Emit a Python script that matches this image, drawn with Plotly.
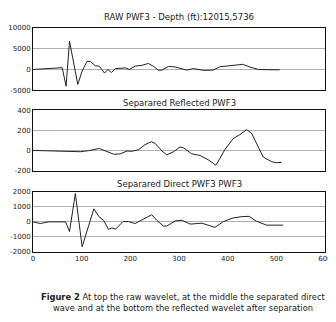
import plotly.graph_objects as go

raw_x = [0, 26, 60, 68, 75, 92, 101, 111, 118, 128, 136, 147, 154, 161, 170, 190, 198, 210, 224, 237, 248, 258, 265, 278, 292, 316, 330, 350, 370, 384, 408, 431, 446, 463, 487, 507]
raw_y = [0, 150, 430, -4000, 6800, -3600, -360, 1950, 1950, 870, 800, -870, 0, -725, 220, 360, 0, 800, 1000, 1450, 725, -220, -150, 725, 600, -150, 220, -220, -150, 650, 940, 1230, 580, 0, -70, -70]

refl_x = [0, 32, 67, 97, 114, 136, 149, 166, 179, 193, 203, 217, 230, 243, 251, 265, 275, 289, 302, 309, 326, 343, 360, 376, 394, 411, 425, 439, 449, 461, 473, 490, 500, 511]
refl_y = [3, 0, -3, -10, 0, 22, -3, -35, -32, -3, -6, 10, 60, 89, 73, -3, -41, -10, 37, 30, -31, -47, -90, -145, 9, 119, 160, 209, 175, 56, -62, -109, -119, -115]

dir_x = [0, 15, 32, 67, 75, 87, 101, 125, 136, 145, 155, 162, 170, 185, 196, 210, 244, 254, 268, 275, 292, 306, 323, 347, 374, 391, 411, 429, 444, 459, 480, 514]
dir_y = [0, -110, 0, 0, -650, 1890, -1670, 870, 330, 110, -500, -410, -480, 20, 20, -110, 480, 110, -280, -280, 65, 110, -150, -90, -370, 20, 260, 350, 370, 45, -220, -220]

titles = ["RAW PWF3 - Depth (ft):12015,5736", "Separared Reflected PWF3", "Separared Direct PWF3 PWF3"]
y_ranges = [[-5000, 10000], [-200, 400], [-2000, 2000]]
y_ticks = [[-5000, 0, 5000, 10000], [-200, 0, 200, 400], [-2000, -1000, 0, 1000, 2000]]
x_ticks = [0, 100, 200, 300, 400, 500, 600]
caption = ["<b>Figure 2</b> At top the raw wavelet, at the middle the separated direct",
           "wave and at the bottom the reflected wavelet after separation"]

OFF = 8  # browser body margin
W, H = 336 - OFF, 322 - OFF
boxes = [(24.3, 88.3), (109, 171), (192.7, 254)]
title_y = [13.5, 101, 184]
caption_y = [300, 312]

fig = go.Figure()
series = [(raw_x, raw_y), (refl_x, refl_y), (dir_x, dir_y)]
for i, (xs, ys) in enumerate(series):
    sfx = "" if i == 0 else str(i + 1)
    fig.add_trace(go.Scatter(x=xs, y=ys, mode="lines", line=dict(color="#222", width=1),
                             xaxis="x" + sfx, yaxis="y" + sfx, showlegend=False, hoverinfo="skip"))
    top, bot = boxes[i]
    top -= OFF
    bot -= OFF
    fig.layout["xaxis" + sfx] = dict(domain=[0, 1], range=[0, 600], anchor="y" + sfx,
                                     showgrid=False, zeroline=False, showline=True, mirror=True,
                                     linecolor="#111", linewidth=1, tickvals=x_ticks,
                                     showticklabels=(i == 2), ticks="", ticklabeloverflow="allow",
                                     tickfont=dict(size=7, color="#222", family="DejaVu Sans"))
    fig.layout["yaxis" + sfx] = dict(domain=[1 - bot / H, 1 - top / H], range=y_ranges[i],
                                     anchor="x" + sfx, tickvals=y_ticks[i],
                                     ticktext=[str(v) for v in y_ticks[i]], showgrid=True,
                                     gridcolor="#b0b0b0", gridwidth=1, zeroline=False,
                                     showline=True, mirror=True, linecolor="#111", linewidth=1,
                                     ticks="", tickfont=dict(size=7, color="#222", family="DejaVu Sans"))
    fig.add_annotation(text=titles[i], xref="paper", yref="paper", x=0.5, y=1 - (title_y[i] - OFF) / H,
                       showarrow=False, xanchor="center", yanchor="middle",
                       font=dict(size=8.5, color="#222", family="DejaVu Sans"))

for line, cy in zip(caption, caption_y):
    fig.add_annotation(text=line, xref="paper", yref="paper", x=(176 - OFF) / W, y=1 - (cy - OFF) / H,
                       showarrow=False, xanchor="center", yanchor="middle",
                       font=dict(size=8.3, color="#222", family="DejaVu Sans"))

fig.update_layout(width=W, height=H, margin=dict(l=32 - OFF, r=11, t=0, b=0),
                  paper_bgcolor="white", plot_bgcolor="white")
fig.write_html("out.html")
